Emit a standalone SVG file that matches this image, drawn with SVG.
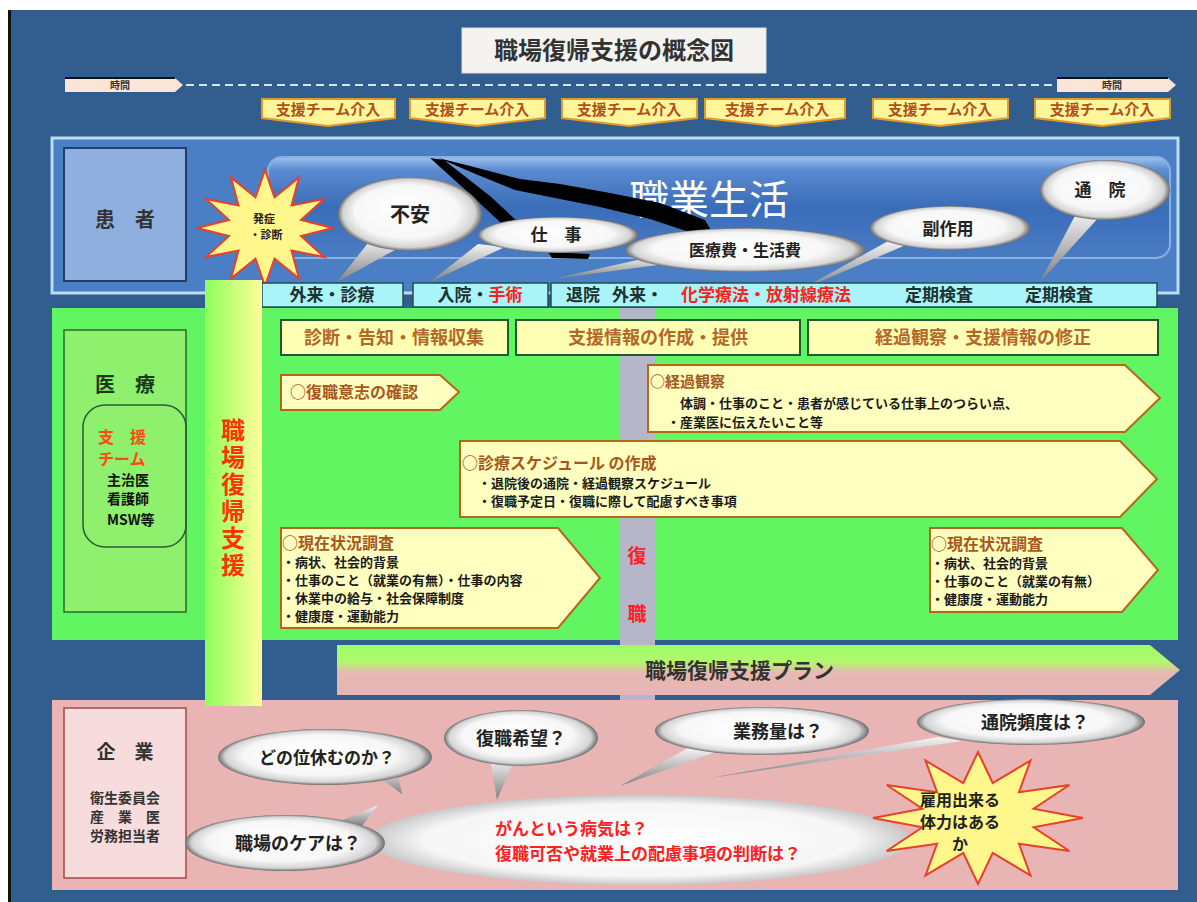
<svg xmlns="http://www.w3.org/2000/svg" width="1197" height="902" viewBox="0 0 1197 902">
<style>
text{font-family:"Noto Sans CJK JP","Noto Sans CJK SC",sans-serif;font-weight:bold;}
.team{fill:#fff59a;stroke:#e39a2c;stroke-width:2}
.teamt{font-size:15px;fill:#b0501a;text-anchor:middle}
.tl{fill:#a8f4f8;stroke:#1f4f4f;stroke-width:1.5}
.tlt{font-size:17px;fill:#1f3030}
.red{fill:#ff2020}
.phase{fill:#ffffb4;stroke:#1f5a30;stroke-width:2}
.phaset{font-size:18px;fill:#b3682a;text-anchor:middle}
.arr{fill:#ffffc0;stroke:#b8651c;stroke-width:2}
.ah{font-size:15px;fill:#a8571c}
.ab{font-size:13px;fill:#1a1a1a}
.bub{fill:url(#bubG)}
.tail{fill:url(#tailG)}
.bt{fill:#222;text-anchor:middle}
.starf{fill:#fff68c;stroke:#e8402a;stroke-width:2}
.lbl{fill:#333;text-anchor:middle}
</style>
<defs>
<radialGradient id="bubG" cx="0.5" cy="0.5" r="0.5" fx="0.42" fy="0.38">
<stop offset="0" stop-color="#ffffff"/><stop offset="0.72" stop-color="#f7f7f7"/><stop offset="0.92" stop-color="#d4d4d4"/><stop offset="1" stop-color="#6e6e6e"/>
</radialGradient>
<radialGradient id="bigG" cx="0.5" cy="0.5" r="0.5">
<stop offset="0" stop-color="#ffffff"/><stop offset="0.8" stop-color="#f6f6f6"/><stop offset="1" stop-color="#c8c8c8"/>
</radialGradient>
<linearGradient id="tailG" x1="0" y1="0" x2="0" y2="1"><stop offset="0" stop-color="#f4f4f4"/><stop offset="1" stop-color="#808080"/></linearGradient>
<linearGradient id="banG" x1="0" y1="0" x2="0" y2="1"><stop offset="0" stop-color="#a0c4ee"/><stop offset="0.13" stop-color="#5a8ad0"/><stop offset="0.5" stop-color="#3a6db8"/><stop offset="1" stop-color="#4a7cc4"/></linearGradient>
<linearGradient id="barG" x1="0" y1="0" x2="1" y2="0"><stop offset="0" stop-color="#8cff5a"/><stop offset="1" stop-color="#ffff9a"/></linearGradient>
<linearGradient id="planG" x1="0" y1="0" x2="0" y2="1"><stop offset="0" stop-color="#99ff66"/><stop offset="0.35" stop-color="#b4f56e"/><stop offset="0.55" stop-color="#e6bab2"/><stop offset="1" stop-color="#e8b4b4"/></linearGradient>
<polygon id="star" vector-effect="non-scaling-stroke" points="100,0 53,14 87,50 39,39 50,87 14,53 0,100 -14,53 -50,87 -39,39 -87,50 -53,14 -100,0 -53,-14 -87,-50 -39,-39 -50,-87 -14,-53 0,-100 14,-53 50,-87 39,-39 87,-50 53,-14"/>
</defs>

<rect x="0" y="0" width="1197" height="902" fill="#ffffff"/>
<rect x="8" y="10" width="1189" height="892" fill="#315d8f"/>
<rect x="8" y="10" width="3" height="892" fill="#111"/>

<g id="title">
<rect x="462" y="28" width="304" height="45" fill="#f5f3f0" stroke="#dddddd"/>
<text x="614" y="59" font-size="24" class="lbl">職場復帰支援の概念図</text>
</g>

<g id="connectors">
<line x1="186" y1="85" x2="1055" y2="85" stroke="#d4e4f4" stroke-width="2" stroke-dasharray="8 5"/>
</g>

<g id="time-left">
<polygon points="65,78 175,78 183,85 175,92 65,92" fill="#fce4d6"/>
<line x1="65" y1="78" x2="175" y2="78" stroke="#111" stroke-width="2"/>
<text x="120" y="89" font-size="10" class="lbl">時間</text>
</g>
<g id="time-right">
<polygon points="1057,78 1168,78 1176,85 1168,92 1057,92" fill="#fce4d6"/>
<line x1="1057" y1="78" x2="1168" y2="78" stroke="#111" stroke-width="2"/>
<text x="1112" y="89" font-size="10" class="lbl">時間</text>
</g>

<g id="team1"><polygon class="team" points="262,99 395,99 395,118 328,126 262,118"/><text class="teamt" x="328" y="115">支援チーム介入</text></g>
<g id="team2"><polygon class="team" points="410,99 545,99 545,118 477,126 410,118"/><text class="teamt" x="477" y="115">支援チーム介入</text></g>
<g id="team3"><polygon class="team" points="562,99 697,99 697,118 629,126 562,118"/><text class="teamt" x="629" y="115">支援チーム介入</text></g>
<g id="team4"><polygon class="team" points="705,99 845,99 845,118 775,126 705,118"/><text class="teamt" x="777" y="115">支援チーム介入</text></g>
<g id="team5"><polygon class="team" points="873,99 1008,99 1008,118 940,126 873,118"/><text class="teamt" x="940" y="115">支援チーム介入</text></g>
<g id="team6"><polygon class="team" points="1035,99 1170,99 1170,118 1102,126 1035,118"/><text class="teamt" x="1102" y="115">支援チーム介入</text></g>

<g id="patient">
<rect x="52" y="138" width="1126" height="155" fill="#4a7ec5" stroke="#bcdcf6" stroke-width="3"/>
<rect x="64" y="148" width="122" height="133" fill="#8fb0df" stroke="#1e3e70" stroke-width="2"/>
<text x="125" y="227" font-size="20" class="lbl">患　者</text>
</g>

<g id="work-life">
<rect x="268" y="157" width="902" height="101" rx="14" fill="url(#banG)" stroke="#8ab0e0" stroke-width="2"/>
<text x="709" y="214" font-size="40" fill="#ffffff" text-anchor="middle" style="font-weight:normal">職業生活</text>
</g>

<g id="streaks">
<polygon points="430,158 444,160 490,196 518,222 502,224 470,194" fill="#000"/>
<polygon points="438,158 470,166 520,179 560,184 610,193 660,203 705,220 712,232 695,234 650,219 600,207 555,198 515,190 478,175" fill="#000"/>
<polygon points="548,252 590,254 588,259 552,258" fill="#000"/>
</g>

<g id="onset">
<use href="#star" class="starf" transform="translate(265,228) scale(0.68,0.58)"/>
<text x="264" y="223" font-size="11" class="bt">発症<tspan x="266" dy="16">・診断</tspan></text>
</g>

<g id="bubble-anxiety">
<polygon class="tail" points="372,238 402,246 337,282"/>
<ellipse class="bub" cx="410" cy="214" rx="72" ry="37"/>
<text x="410" y="222" font-size="20" class="bt">不安</text>
</g>
<g id="bubble-work">
<polygon class="tail" points="478,244 505,247 430,282"/>
<ellipse class="bub" cx="558" cy="235" rx="80" ry="18"/>
<text x="556" y="241" font-size="17" class="bt">仕　事</text>
</g>
<g id="bubble-cost">
<polygon class="tail" points="655,256 680,262 553,279"/>
<ellipse class="bub" cx="745" cy="250" rx="120" ry="22"/>
<text x="745" y="256" font-size="16" class="bt">医療費・生活費</text>
</g>
<g id="bubble-side">
<polygon class="tail" points="890,240 906,245 800,290"/>
<ellipse class="bub" cx="950" cy="228" rx="80" ry="22"/>
<text x="948" y="235" font-size="17" class="bt">副作用</text>
</g>
<g id="bubble-visit">
<polygon class="tail" points="1078,210 1100,216 1040,282"/>
<ellipse class="bub" cx="1105" cy="190" rx="65" ry="30"/>
<text x="1100" y="196" font-size="17" class="bt">通　院</text>
</g>

<g id="medical">
<rect x="52" y="308" width="1126" height="332" fill="#62f562"/>
<rect x="64" y="330" width="122" height="282" fill="#8ef06c" stroke="#2a6a2a" stroke-width="1.5"/>
<text x="125" y="392" font-size="20" fill="#1a3a1a" text-anchor="middle">医　療</text>
<rect x="83" y="405" width="103" height="142" rx="22" fill="none" stroke="#2a5a3a" stroke-width="1.5"/>
<text x="98" y="443" font-size="16" fill="#ff4a10">支　援<tspan x="98" dy="22">チーム</tspan></text>
<text x="107" y="485" font-size="14" fill="#111">主治医<tspan x="107" dy="19">看護師</tspan><tspan x="107" dy="21">MSW等</tspan></text>
</g>

<g id="timeline">
<rect class="tl" x="262" y="283" width="141" height="24"/>
<text class="tlt" x="332" y="301" text-anchor="middle">外来・診療</text>
<rect class="tl" x="413" y="283" width="135" height="24"/>
<text class="tlt" x="480" y="301" text-anchor="middle">入院・<tspan class="red">手術</tspan></text>
<rect class="tl" x="551" y="283" width="606" height="24"/>
<text class="tlt" x="566" y="301">退院<tspan x="612">外来・</tspan><tspan class="red" x="681">化学療法・放射線療法</tspan><tspan x="905">定期検査</tspan><tspan x="1025">定期検査</tspan></text>
</g>

<g id="return-band">
<rect x="620" y="308" width="35" height="392" fill="#b6b6ca"/>
<text x="637" y="563" font-size="19" fill="#ff2020" text-anchor="middle">復<tspan x="637" dy="58">職</tspan></text>
</g>

<g id="phase1"><rect class="phase" x="281" y="320" width="227" height="35"/><text class="phaset" x="394" y="344">診断・告知・情報収集</text></g>
<g id="phase2"><rect class="phase" x="516" y="320" width="284" height="35"/><text class="phaset" x="658" y="344">支援情報の作成・提供</text></g>
<g id="phase3"><rect class="phase" x="808" y="320" width="350" height="35"/><text class="phaset" x="983" y="344">経過観察・支援情報の修正</text></g>

<g id="intent">
<polygon class="arr" points="281,375 440,375 459,392 440,410 281,410"/>
<text class="ah" x="290" y="398" style="font-size:16px">○復職意志の確認</text>
</g>
<g id="followup">
<polygon class="arr" points="648,365 1125,365 1160,398 1125,432 648,432"/>
<text class="ah" x="650" y="387">○経過観察</text>
<text class="ab" x="680" y="408">体調・仕事のこと・患者が感じている仕事上のつらい点、<tspan x="667" dy="19">・産業医に伝えたいこと等</tspan></text>
</g>
<g id="schedule">
<polygon class="arr" points="460,441 1120,441 1157,479 1120,517 460,517"/>
<text class="ah" x="462" y="469" style="font-size:16px">○診療スケジュール の作成</text>
<text class="ab" x="478" y="488">・退院後の通院・経過観察スケジュール<tspan x="478" dy="18">・復職予定日・復職に際して配慮すべき事項</tspan></text>
</g>
<g id="survey-left">
<polygon class="arr" points="281,528 558,528 600,578 558,628 281,628"/>
<text x="282" y="549" class="ab"><tspan class="ah" style="font-size:16px">○現在状況調査</tspan><tspan x="282" dy="18">・病状、社会的背景</tspan><tspan x="282" dy="18">・仕事のこと（就業の有無）・仕事の内容</tspan><tspan x="282" dy="18">・休業中の給与・社会保障制度</tspan><tspan x="282" dy="18">・健康度・運動能力</tspan></text>
</g>
<g id="survey-right">
<polygon class="arr" points="930,528 1122,528 1158,570 1122,612 930,612"/>
<text x="931" y="550" class="ab"><tspan class="ah" style="font-size:16px">○現在状況調査</tspan><tspan x="931" dy="18">・病状、社会的背景</tspan><tspan x="931" dy="18">・仕事のこと（就業の有無）</tspan><tspan x="931" dy="18">・健康度・運動能力</tspan></text>
</g>

<g id="company">
<rect x="52" y="700" width="1126" height="190" fill="#e8b4b4"/>
<rect x="64" y="708" width="122" height="170" fill="#f6dcdc" stroke="#a04848" stroke-width="1.5"/>
<text x="125" y="759" font-size="19" class="lbl">企　業</text>
<text x="125" y="803" font-size="14" class="lbl">衛生委員会<tspan x="125" dy="19">産　業　医</tspan><tspan x="125" dy="19">労務担当者</tspan></text>
</g>

<g id="support-bar">
<rect x="205" y="280" width="57" height="426" fill="url(#barG)"/>
<text x="233" y="418" font-size="24" fill="#ff3300" writing-mode="vertical-rl" letter-spacing="3">職場復帰支援</text>
</g>

<g id="plan">
<polygon points="337,645 1150,645 1180,670 1150,695 337,695" fill="url(#planG)"/>
<text x="645" y="678" font-size="21" fill="#333">職場復帰支援プラン</text>
</g>

<g id="bubble-main">
<ellipse cx="640" cy="840" rx="270" ry="45" fill="url(#bigG)"/>
<text x="495" y="835" font-size="17" fill="#ff2020">がんという病気は？<tspan x="495" dy="25">復職可否や就業上の配慮事項の判断は？</tspan></text>
</g>
<g id="bubble-howlong">
<polygon class="tail" points="372,772 396,766 402,794"/>
<ellipse class="bub" cx="325" cy="757" rx="107" ry="28"/>
<text x="327" y="764" font-size="17" class="bt">どの位休むのか？</text>
</g>
<g id="bubble-wish">
<polygon class="tail" points="490,758 514,760 497,800"/>
<ellipse class="bub" cx="521" cy="738" rx="77" ry="28"/>
<text x="521" y="745" font-size="18" class="bt">復職希望？</text>
</g>
<g id="bubble-workload">
<polygon class="tail" points="688,748 716,752 620,786"/>
<ellipse class="bub" cx="762" cy="731" rx="107" ry="24"/>
<text x="778" y="738" font-size="18" class="bt">業務量は？</text>
</g>
<g id="bubble-frequency">
<polygon class="tail" points="938,737 962,741 710,778"/>
<ellipse class="bub" cx="1031" cy="722" rx="114" ry="23"/>
<text x="1035" y="729" font-size="18" class="bt">通院頻度は？</text>
</g>
<g id="bubble-care">
<polygon class="tail" points="338,822 362,826 378,805"/>
<ellipse class="bub" cx="285" cy="843" rx="100" ry="28"/>
<text x="298" y="850" font-size="18" class="bt">職場のケアは？</text>
</g>
<g id="stamina">
<use href="#star" class="starf" transform="translate(978,818) scale(1.05,0.66)"/>
<text x="960" y="806" font-size="16" class="bt">雇用出来る<tspan x="960" dy="22">体力はある</tspan><tspan x="960" dy="22">か</tspan></text>
</g>
</svg>
